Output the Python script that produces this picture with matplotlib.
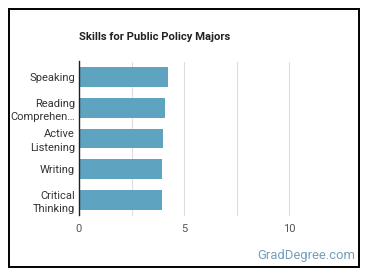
import matplotlib.pyplot as plt
from matplotlib.patches import Rectangle

plt.rcParams['font.family'] = ['Roboto', 'DejaVu Sans']

# Data
skills = ["Speaking", "Reading\nComprehen…", "Active\nListening", "Writing", "Critical\nThinking"]
scores = [4.24, 4.10, 4.01, 3.97, 3.96]
x_ticks = [0, 5, 10]
grid_ticks = [2.5, 5, 7.5, 10]

fig = plt.figure(figsize=(3.7, 2.78), dpi=100)
ax = fig.add_axes([79 / 370, 1 - 215.5 / 278, (341.5 - 79) / 370, 154 / 278])

positions = list(range(len(skills)))
ax.barh(positions, scores, height=0.64, color="#5ea3c0", zorder=2)
ax.set_ylim(len(skills) - 0.5, -0.5)
ax.set_xlim(0, 12.5)

for g in grid_ticks:
    ax.axvline(g, color="#dddddd", linewidth=0.8, zorder=1)

ax.set_yticks(positions)
ax.set_yticklabels(skills, fontsize=8.0, color="#333333", linespacing=1.38)
ax.set_xticks(x_ticks)
ax.set_xticklabels([str(t) for t in x_ticks], fontsize=8.0, color="#555555")
ax.tick_params(axis="both", length=0, pad=3)
ax.tick_params(axis="x", pad=6)

for side in ["top", "right", "bottom"]:
    ax.spines[side].set_visible(False)
ax.spines["left"].set_color("#222222")
ax.spines["left"].set_linewidth(1.0)

fig.text(79 / 370, 1 - 37 / 278, "Skills for Public Policy Majors",
         fontsize=8.1, fontweight="bold", color="#222222", va="center", ha="left")
fig.text(355 / 370, 1 - 255 / 278, "GradDegree.com",
         fontsize=9.4, color="#739fbb", va="center", ha="right")

# outer frame
fig.patches.append(Rectangle((8.5 / 370, 1 - 266.5 / 278), (359 - 8.5) / 370, (266.5 - 8.5) / 278,
                             transform=fig.transFigure, fill=False, edgecolor="black", linewidth=1.4))

fig.savefig("out.png", dpi=100)
